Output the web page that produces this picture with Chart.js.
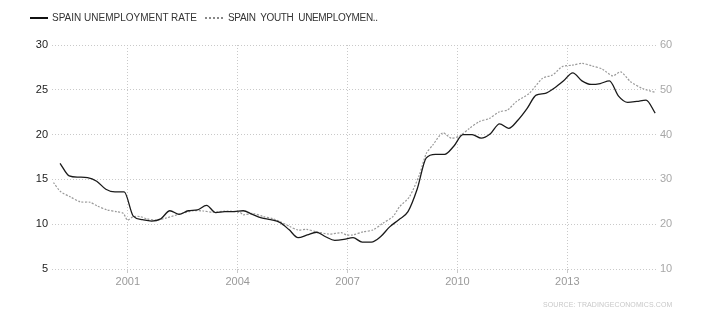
<!DOCTYPE html>
<html>
<head>
<meta charset="utf-8">
<script src="https://cdn.jsdelivr.net/npm/chart.js@4/dist/chart.umd.min.js"></script>
<style>
  body { margin: 0; background: #fff; }
  #wrap { position: relative; width: 710px; height: 320px; font-family: Arial, "Liberation Sans", sans-serif; }
  #chart { position: absolute; left: 0; top: 0; }
  .legend { position: absolute; top: 12px; font-size: 10px; color: #333; white-space: pre; line-height: 12px; }
  .swatch { position: absolute; top: 17px; height: 0; }
  #source { position: absolute; left: 543px; top: 301px; font-size: 7px; color: #c8c8c8; letter-spacing: 0.1px; }
</style>
</head>
<body>
<div id="wrap">
  <canvas id="chart" width="710" height="320"></canvas>
  <div class="swatch" style="left:30px;width:18px;border-top:2px solid #111;"></div>
  <div class="legend" style="left:52px;">SPAIN UNEMPLOYMENT RATE</div>
  <div class="swatch" style="left:205px;width:18px;border-top:2px dotted #888;"></div>
  <div class="legend" style="left:228px;letter-spacing:-0.35px;">SPAIN  YOUTH  UNEMPLOYMEN..</div>
  <div id="source">SOURCE: TRADINGECONOMICS.COM</div>
</div>
<script>
// quarterly unemployment rate (left axis), x in decimal years
const rateDates = [
  1999.15, 1999.40, 1999.65, 1999.90, 2000.15, 2000.40, 2000.65, 2000.90,
  2001.15, 2001.40, 2001.65, 2001.90, 2002.15, 2002.40, 2002.65, 2002.90,
  2003.15, 2003.40, 2003.65, 2003.90, 2004.15, 2004.40, 2004.65, 2004.90,
  2005.15, 2005.40, 2005.65, 2005.90, 2006.15, 2006.40, 2006.65, 2006.90,
  2007.15, 2007.40, 2007.65, 2007.90, 2008.15, 2008.40, 2008.65, 2008.90,
  2009.15, 2009.40, 2009.65, 2009.90, 2010.15, 2010.40, 2010.65, 2010.90,
  2011.15, 2011.40, 2011.65, 2011.90, 2012.15, 2012.40, 2012.65, 2012.90,
  2013.15, 2013.40, 2013.65, 2013.90, 2014.15, 2014.40, 2014.65, 2014.90,
  2015.15, 2015.40
];
const rateValues = [
  16.8, 15.4, 15.25, 15.2, 14.8, 13.9, 13.6, 13.6,
  10.9, 10.5, 10.35, 10.6, 11.5, 11.1, 11.5, 11.6,
  12.1, 11.3, 11.4, 11.4, 11.5, 11.1, 10.7, 10.5,
  10.2, 9.4, 8.5, 8.8, 9.1, 8.6, 8.2, 8.3,
  8.5, 8.0, 8.0, 8.6, 9.7, 10.5, 11.4, 13.9,
  17.4, 17.8, 17.8, 18.7, 20.0, 20.0, 19.6, 20.1,
  21.2, 20.7, 21.6, 22.9, 24.4, 24.6, 25.2, 26.0,
  26.9, 26.0, 25.6, 25.7, 26.0, 24.3, 23.6, 23.7,
  23.85, 22.4
];

// youth unemployment rate (right axis)
const youthDates = [
  1998.97, 1999.16, 1999.43, 1999.70, 1999.97, 2000.16, 2000.43, 2000.70,
  2000.88, 2000.99, 2001.15, 2001.34, 2001.52, 2001.79, 2002.06, 2002.43,
  2002.79, 2003.06, 2003.33, 2003.70, 2004.06, 2004.15, 2004.42, 2004.70,
  2004.97, 2005.15, 2005.42, 2005.65, 2005.88, 2006.15, 2006.51, 2006.83,
  2006.97, 2007.15, 2007.42, 2007.69, 2007.96, 2008.24, 2008.42, 2008.69,
  2008.96, 2009.15, 2009.33, 2009.60, 2009.83, 2010.06, 2010.33, 2010.60,
  2010.87, 2011.15, 2011.37, 2011.60, 2011.96, 2012.33, 2012.60, 2012.87,
  2013.14, 2013.41, 2013.69, 2013.96, 2014.24, 2014.46, 2014.73, 2015.05,
  2015.41
];
const youthValues = [
  29.3, 27.3, 26.1, 25.0, 24.9, 24.1, 23.2, 22.8,
  22.4, 20.9, 21.7, 21.7, 21.2, 20.9, 21.4, 22.3,
  23.0, 22.95, 22.65, 22.95, 22.65, 22.1, 22.4, 21.7,
  21.2, 20.6, 19.5, 18.7, 18.85, 18.3, 17.8, 18.1,
  17.6, 17.6, 18.3, 18.7, 20.2, 21.7, 23.9, 26.1,
  31.0, 35.8, 37.7, 40.4, 39.2, 39.7, 41.4, 42.9,
  43.6, 45.1, 45.5, 47.3, 49.2, 52.6, 53.3, 55.2,
  55.5, 55.9, 55.3, 54.6, 53.1, 54.0, 51.8, 50.3,
  49.4
];

const yearTicks = [2001, 2004, 2007, 2010, 2013];

const toPoints = (xs, ys) => xs.map((x, i) => ({ x, y: ys[i] }));
const GRID = "#c9c9c9";
const FONT = { family: "Arial, 'Liberation Sans', sans-serif", size: 11 };

new Chart(document.getElementById("chart"), {
  type: "line",
  data: {
    datasets: [
      {
        label: "SPAIN UNEMPLOYMENT RATE", data: toPoints(rateDates, rateValues), yAxisID: "y",
        borderColor: "#1a1a1a", borderWidth: 1.3, pointRadius: 0, tension: 0.4, cubicInterpolationMode: "monotone"
      },
      {
        label: "SPAIN YOUTH UNEMPLOYMENT", data: toPoints(youthDates, youthValues), yAxisID: "y2",
        borderColor: "#9a9a9a", borderWidth: 1.2, borderDash: [2, 1.5], pointRadius: 0, tension: 0.25
      }
    ]
  },
  options: {
    responsive: false, animation: false,
    layout: { padding: { top: 45, left: 0, right: 0, bottom: 0 } },
    plugins: { legend: { display: false }, tooltip: { enabled: false } },
    scales: {
      x: {
        type: "linear", min: 1998.93, max: 2015.45,
        afterBuildTicks: (s) => { s.ticks = yearTicks.map(v => ({ value: v })); },
        afterFit: (s) => { s.height = 51; },
        grid: { color: GRID, drawTicks: true, tickLength: 4, tickColor: GRID },
        border: { display: false, dash: [1, 2] },
        ticks: { color: "#9a9a9a", font: FONT, padding: 2, maxRotation: 0, callback: (v) => String(v) }
      },
      y: {
        position: "left", min: 5, max: 30,
        afterFit: (s) => { s.width = 52; },
        grid: { color: GRID, drawTicks: false },
        border: { display: false, dash: [1, 2] },
        ticks: { stepSize: 5, color: "#222", font: FONT, padding: 4 }
      },
      y2: {
        position: "right", min: 10, max: 60,
        afterFit: (s) => { s.width = 53; },
        grid: { display: false, drawTicks: false },
        border: { display: false },
        ticks: { stepSize: 10, color: "#a8a8a8", font: FONT, padding: 3 }
      }
    }
  }
});
</script>
</body>
</html>
